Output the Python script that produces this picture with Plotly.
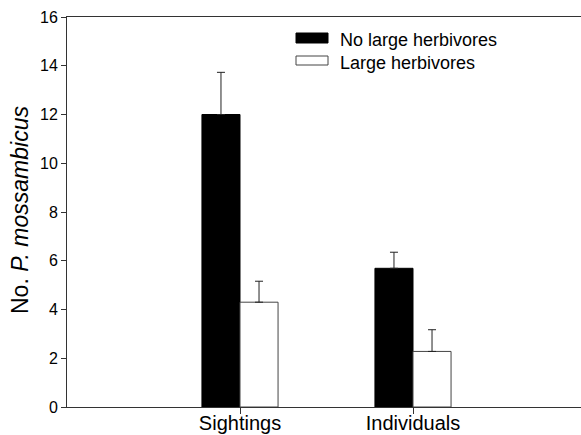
import plotly.graph_objects as go

categories = ["Sightings", "Individuals"]
series_names = ["No large herbivores", "Large herbivores"]
no_large = [12.0, 5.69]
no_large_err = [1.73, 0.66]
large = [4.30, 2.28]
large_err = [0.86, 0.89]
y_ticks = [0, 2, 4, 6, 8, 10, 12, 14, 16]

FONT = "Liberation Sans, Arial, Helvetica, sans-serif"
xpos = [i + 1 for i in range(len(categories))]

fig = go.Figure()
fig.add_trace(go.Bar(
    x=xpos, y=no_large, name=series_names[0],
    marker=dict(color="black", line=dict(color="black", width=1)),
    error_y=dict(type="data", symmetric=False, array=no_large_err,
                 arrayminus=[0] * len(no_large), color="#222", thickness=1, width=4),
    showlegend=False,
))
fig.add_trace(go.Bar(
    x=xpos, y=large, name=series_names[1],
    marker=dict(color="white", line=dict(color="#444", width=1)),
    error_y=dict(type="data", symmetric=False, array=large_err,
                 arrayminus=[0] * len(large), color="#222", thickness=1, width=4),
    showlegend=False,
))

L, R, T, B = 67, 0, 17, 28
W, H = 581, 435
pw = W - L - R
ph = H - T - B

def px_x(px):
    return (px - L) / pw

def px_y(py):
    return (H - B - py) / ph

# custom legend (wide swatches)
legend_rows = [(33, 43, 39.5, "black", "black"), (56, 65, 62.5, "white", "#444")]
for (top, bot, mid, fill, line), name in zip(legend_rows, series_names):
    fig.add_shape(type="rect", xref="paper", yref="paper",
                  x0=px_x(296), x1=px_x(328), y0=px_y(bot), y1=px_y(top),
                  fillcolor=fill, line=dict(color=line, width=1))
    fig.add_annotation(xref="paper", yref="paper", x=px_x(338), y=px_y(mid),
                       xanchor="left", yanchor="middle", text=name, showarrow=False,
                       font=dict(family=FONT, size=18, color="black"))

# y-axis title
fig.add_annotation(xref="paper", yref="paper", x=px_x(20), y=px_y(210),
                   xanchor="center", yanchor="middle", textangle=-90,
                   text="No. <i>P. mossambicus</i>", showarrow=False,
                   font=dict(family=FONT, size=23, color="black"))

fig.update_layout(
    width=W, height=H,
    margin=dict(l=L, r=R, t=T, b=B, pad=0, autoexpand=False),
    paper_bgcolor="white", plot_bgcolor="white",
    barmode="group", bargap=0.56, bargroupgap=0,
    font=dict(family=FONT, color="black"),
    xaxis=dict(range=[0, pw / 173.0], tickvals=xpos, ticktext=categories,
               ticks="outside", ticklen=6, tickcolor="#333", tickwidth=1,
               showline=True, linecolor="#333", linewidth=1, mirror=True,
               showgrid=False, zeroline=False, automargin=False,
               ticklabelstandoff=-8,
               tickfont=dict(family=FONT, size=20, color="black")),
    yaxis=dict(range=[0, 16], tickvals=y_ticks,
               ticks="outside", ticklen=5, tickcolor="#333", tickwidth=1,
               showline=True, linecolor="#333", linewidth=1,
               showgrid=False, zeroline=False, automargin=False,
               tickfont=dict(family=FONT, size=16, color="black")),
)

fig.write_html(
    "out.html",
    config={"displayModeBar": False},
    post_script="document.documentElement.style.margin='0';"
                "document.documentElement.style.overflow='hidden';"
                "document.body.style.margin='0';document.body.style.padding='0';"
                "document.body.style.overflow='hidden';",
)
